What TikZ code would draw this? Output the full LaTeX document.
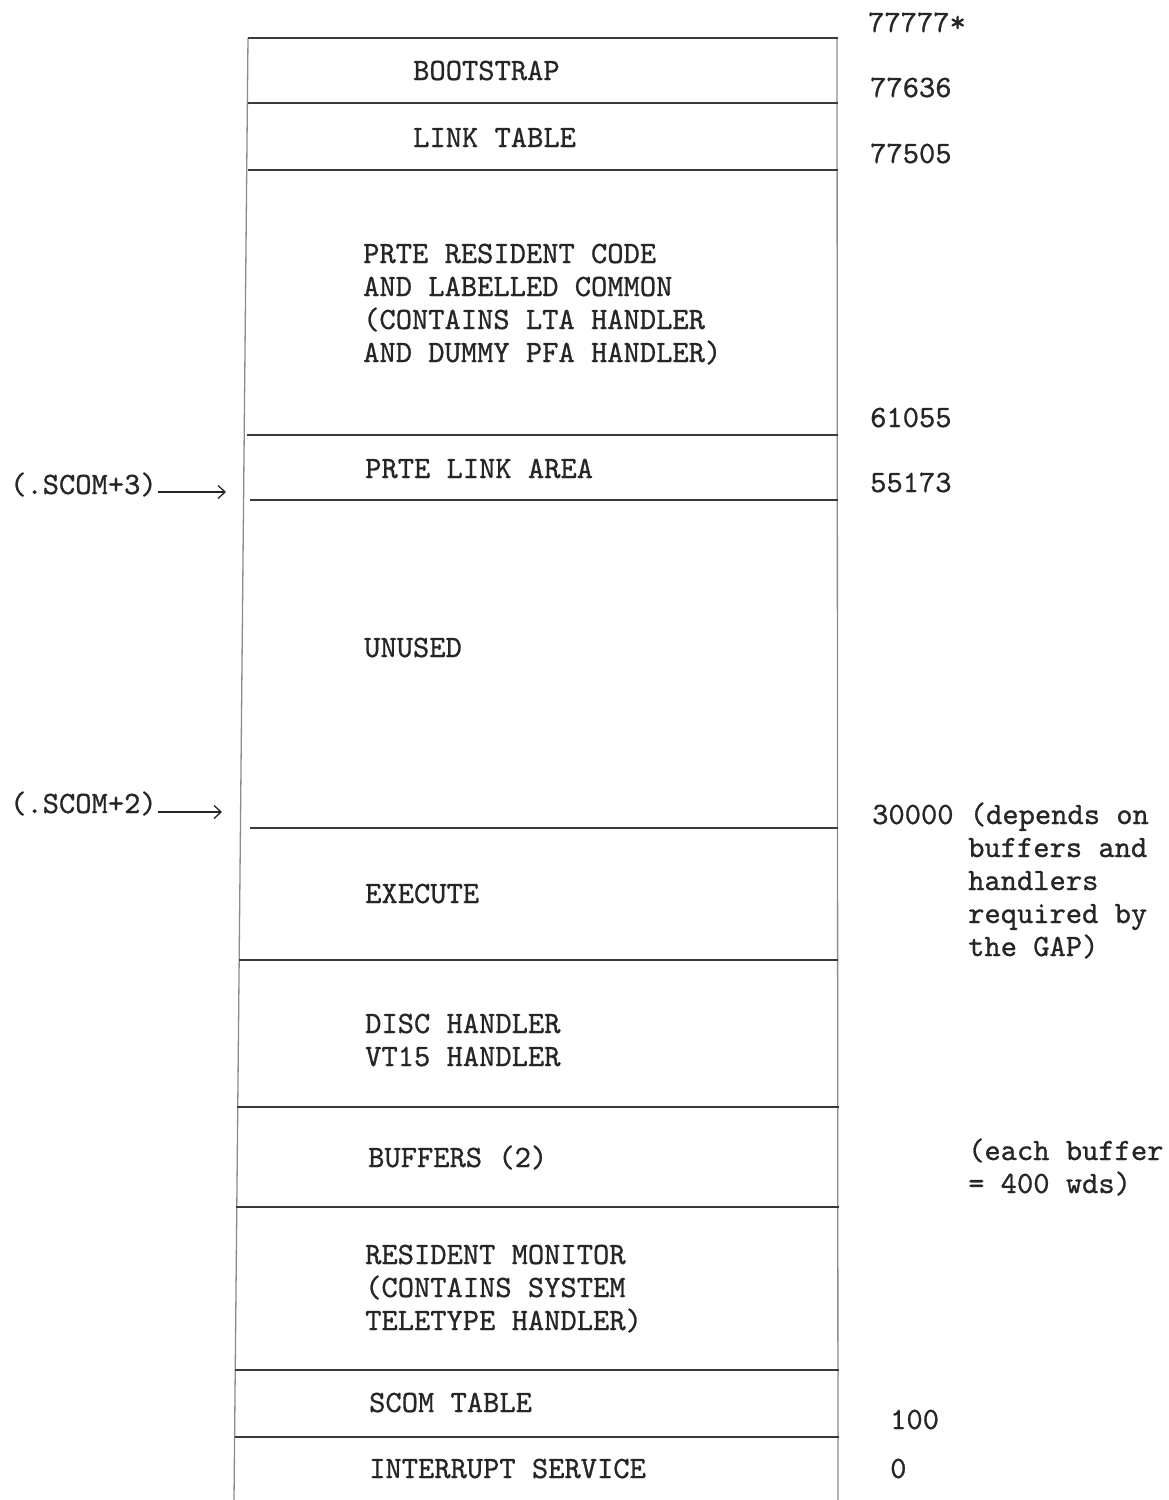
\documentclass[tikz,border=0pt]{standalone}
\usepackage{fontspec}
\setmonofont{lmmono10-regular.otf}[FakeBold=0.8]
\usetikzlibrary{arrows.meta}
\definecolor{ink}{HTML}{262626}
\definecolor{lineink}{HTML}{3A3A3A}
\definecolor{vink}{HTML}{8C8C8C}
\begin{document}
\begin{tikzpicture}[x=1pt,y=-1pt,
  lbl/.style={anchor=base west, inner sep=0pt, text=ink, font=\ttfamily\fontsize{31}{33}\selectfont, align=left},
  hline/.style={draw=lineink, line width=2.2pt},
  vline/.style={draw=vink, line width=1.3pt},
  arr/.style={draw=ink, line width=1.3pt, -{Straight Barb[length=7pt,width=13pt]}}]
\useasboundingbox[fill=white] (0,0) rectangle (1169,1500);

% borders
\draw[vline] (248,38) -- (234,1500);
\draw[vline] (837,38) -- (838,1500);

% horizontal dividers
\draw[hline] (248,38) -- (838,38);
\draw[hline] (248,103) -- (838,103);
\draw[hline] (248,170) -- (838,170);
\draw[hline] (247,435) -- (838,435);
\draw[hline] (250,500) -- (838,500);
\draw[hline] (250,828) -- (838,828);
\draw[hline] (239,960) -- (838,960);
\draw[hline] (237,1107) -- (839,1107);
\draw[hline] (236,1207) -- (839,1207);
\draw[hline] (235,1370) -- (839,1370);
\draw[hline] (235,1437) -- (839,1437);

% box contents (base = baseline of the last line)
\node[lbl] (boot) at (413,80) {BOOTSTRAP};
\node[lbl] (link) at (413,147) {LINK TABLE};
\node[lbl] (prte) at (363,362) {PRTE RESIDENT CODE\\AND LABELLED COMMON\\(CONTAINS LTA HANDLER\\AND DUMMY PFA HANDLER)};
\node[lbl] (plink) at (365,478) {PRTE LINK AREA};
\node[lbl] (unused) at (364,657) {UNUSED};
\node[lbl] (exec) at (365,903) {EXECUTE};
\node[lbl] (disc) at (365,1066) {DISC HANDLER\\VT15 HANDLER};
\node[lbl] (buf) at (368,1167) {BUFFERS (2)};
\node[lbl] (resmon) at (365,1330) {RESIDENT MONITOR\\(CONTAINS SYSTEM\\TELETYPE HANDLER)};
\node[lbl] (scomt) at (369,1412) {SCOM TABLE};
\node[lbl] (intr) at (369,1478) {INTERRUPT SERVICE};

% addresses
\node[lbl] (a1) at (868,32) {77777*};
\node[lbl] (a2) at (870,97) {77636};
\node[lbl] (a3) at (870,163) {77505};
\node[lbl] (a4) at (870,427) {61055};
\node[lbl] (a5) at (870,492) {55173};
\node[lbl] (a6) at (872,824) {30000 (depends on};
\node[lbl] (a6n) at (968,956) {buffers and\\handlers\\required by\\the GAP)};
\node[lbl] (bufn) at (968,1193) {(each buffer\\= 400 wds)};
\node[lbl] (a7) at (890,1429) {100};
\node[lbl] (a8) at (890,1478) {0};

% pointers
\node[lbl] (scom3) at (10,494) {(.SCOM+3)};
\node[lbl] (scom2) at (10,813) {(.SCOM+2)};
\coordinate (t3) at (226,492);
\coordinate (t2) at (222,812);
\draw[arr] ([xshift=1pt,yshift=2pt]scom3.base east) -- (t3);
\draw[arr] ([xshift=1pt,yshift=1pt]scom2.base east) -- (t2);
\end{tikzpicture}
\end{document}
